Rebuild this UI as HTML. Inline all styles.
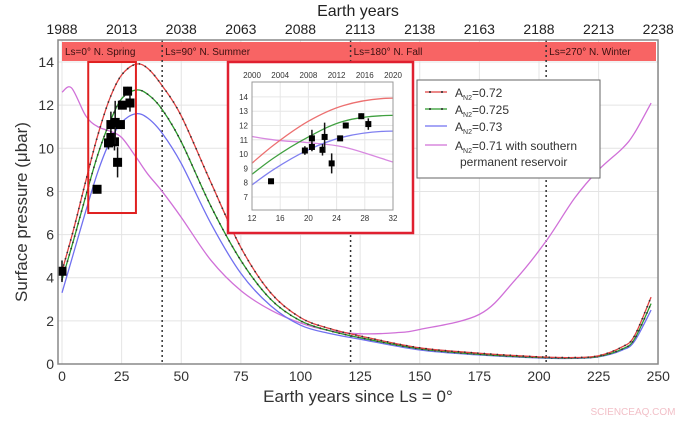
<!DOCTYPE html>
<html><head><meta charset="utf-8"><style>
body{margin:0;background:#fff;}
svg{display:block;font-family:"Liberation Sans","DejaVu Sans",sans-serif;}
</style></head><body>
<svg id="chart" width="692" height="422" viewBox="0 0 692 422"></svg>
<script>
const xTicks=[0,25,50,75,100,125,150,175,200,225,250];
const topTickLabels=["1988","2013","2038","2063","2088","2113","2138","2163","2188","2213","2238"];
const yTicks=[0,2,4,6,8,10,12,14];
const seasonX=[0,42,121,203];
const seasonLabels=["Ls=0° N. Spring","Ls=90° N. Summer","Ls=180° N. Fall","Ls=270° N. Winter"];
const modelX=[0,5,10,15,20,25,31,36,42,50,62.5,75,87.5,100,112,125,150,175,200,215,225,235,240,247];
const redY=[4.3,6.3,8.5,10.6,12.3,13.4,13.9,13.7,12.9,11.5,8.4,5.4,3.3,2.15,1.65,1.3,0.75,0.5,0.33,0.3,0.38,0.8,1.3,3.1];
const greenY=[3.9,5.8,7.8,9.7,11.2,12.3,12.7,12.5,11.8,10.3,7.3,4.8,3.0,2.0,1.55,1.22,0.7,0.45,0.3,0.28,0.35,0.7,1.15,2.8];
const blueY=[3.3,5.2,7.1,8.9,10.3,11.2,11.6,11.4,10.7,9.3,6.5,4.2,2.7,1.8,1.42,1.15,0.65,0.42,0.28,0.26,0.33,0.65,1.05,2.5];
const purpleX=[0,4,10,15,20,25,31,36,42,50,62.5,75,87.5,100,112,125,140,150,175,190,203,215,225,235,240,247];
const purpleY=[12.6,12.8,11.5,11.0,10.8,10.5,9.6,8.8,8.0,6.8,4.8,3.4,2.5,1.9,1.55,1.4,1.45,1.6,2.3,3.9,5.7,7.7,9.0,10.0,10.7,12.1];
const obsX=[0,14.7,19.5,20.5,20.5,22,22.3,23.3,24.5,25.3,27.5,28.5];
const obsY=[4.3,8.1,10.25,11.1,10.5,10.3,11.2,9.35,11.1,12.0,12.65,12.1];
const obsErr=[0.5,0.15,0.3,0.6,0.3,0.4,1.0,0.7,0.15,0.15,0.2,0.4];
const insetXTicks=[12,16,20,24,28,32];
const insetTopLabels=["2000","2004","2008","2012","2016","2020"];
const insetYTicks=[7,8,9,10,11,12,13,14];

const NS="http://www.w3.org/2000/svg";
const svg=document.getElementById('chart');
function el(tag,attrs,parent){const e=document.createElementNS(NS,tag);for(const k in attrs)e.setAttribute(k,attrs[k]);(parent||svg).appendChild(e);return e;}
const L=58,R=658,T=40,B=364;
const X=v=>62+v*2.385;
const Y=v=>364-v*21.57;
function spline(pts){let d=`M${pts[0][0]},${pts[0][1]}`;for(let i=0;i<pts.length-1;i++){const p0=pts[Math.max(i-1,0)],p1=pts[i],p2=pts[i+1],p3=pts[Math.min(i+2,pts.length-1)];const c1=[p1[0]+(p2[0]-p0[0])/6,p1[1]+(p2[1]-p0[1])/6],c2=[p2[0]-(p3[0]-p1[0])/6,p2[1]-(p3[1]-p1[1])/6];d+=` C${c1[0]},${c1[1]} ${c2[0]},${c2[1]} ${p2[0]},${p2[1]}`;}return d;}

xTicks.forEach(t=>{const g=el('line',{x1:X(t),x2:X(t),y1:T,y2:B,stroke:'#e4e4e4','stroke-width':1});

});
yTicks.forEach(t=>{const g=el('line',{x1:L,x2:R,y1:Y(t),y2:Y(t),stroke:'#e4e4e4','stroke-width':1});

});

const band=el('rect',{x:62,y:42,width:594,height:19,fill:'#f86464'});


seasonX.forEach((s,i)=>{const t=el('text',{x:X(s)+3,y:55,'font-size':10,fill:'#3a1010'});t.textContent=seasonLabels[i];


if(i>0){const ln=el('line',{x1:X(s),x2:X(s),y1:T,y2:B,stroke:'#333','stroke-width':1.5,'stroke-dasharray':'2,3'});

}});

function curve(xs,ys,color,name,dots,Xf,Yf,parent){const pts=xs.map((x,i)=>[Xf(x),Yf(ys[i])]);const p=el('path',{d:spline(pts),fill:'none',stroke:color,'stroke-width':1.3},parent);


if(dots){const len=p.getTotalLength();for(let s=0;s<len;s+=dots){const q=p.getPointAtLength(s);const c=el('circle',{cx:q.x,cy:q.y,r:0.9,fill:'#333'},parent);

}}}
curve(purpleX,purpleY,'#d070d8','curve-a071-reservoir',0,X,Y);
curve(modelX,blueY,'#7070f0','curve-a073',0,X,Y);
curve(modelX,greenY,'#2a9a2a','curve-a0725',6.5,X,Y);
curve(modelX,redY,'#e04040','curve-a072',6.5,X,Y);

function obs(Xf,Yf,sz,parent){obsX.forEach((x,i)=>{const e=el('line',{x1:Xf(x),x2:Xf(x),y1:Yf(obsY[i]+obsErr[i]),y2:Yf(obsY[i]-obsErr[i]),stroke:'#111','stroke-width':1.5},parent);


const r=el('rect',{x:Xf(x)-sz/2,y:Yf(obsY[i])-sz/2,width:sz,height:sz,fill:'#000'},parent);

});}
obs(X,Y,9);

const zr=el('rect',{x:X(11),y:Y(14),width:X(31)-X(11),height:Y(7)-Y(14),fill:'none',stroke:'#e02020','stroke-width':2});



const fr=el('rect',{x:L,y:T,width:R-L,height:B-T,fill:'none',stroke:'#888','stroke-width':1.5});



xTicks.forEach((t,i)=>{const a=el('text',{x:X(t),y:381,'font-size':14,'text-anchor':'middle',fill:'#333'});a.textContent=t;


const b=el('text',{x:X(t),y:34,'font-size':14,'text-anchor':'middle',fill:'#222'});b.textContent=topTickLabels[i];

});
yTicks.forEach(t=>{const a=el('text',{x:54,y:Y(t)+5,'font-size':14,'text-anchor':'end',fill:'#333'});a.textContent=t;

});
const xt=el('text',{x:358,y:402,'font-size':17,'text-anchor':'middle',fill:'#333'});xt.textContent='Earth years since Ls = 0°';


const tt=el('text',{x:358,y:16,'font-size':16,'text-anchor':'middle',fill:'#222'});tt.textContent='Earth years';


const yt=el('text',{x:0,y:0,'font-size':17,'text-anchor':'middle',fill:'#333',transform:'translate(27,212) rotate(-90)'});yt.textContent='Surface pressure (μbar)';



const ig=el('g',{});


el('rect',{x:228,y:62,width:185,height:171,fill:'#fff',stroke:'#e02030','stroke-width':2.5},ig);
const IX=v=>252+(v-12)*7.05, IY=v=>197-(v-7)*14.3;
const il=252,ir=393,it=82,ib=210;
const clip=el('clipPath',{id:'ic'},ig);el('rect',{x:il,y:it,width:ir-il,height:ib-it},clip);
insetXTicks.forEach((t,i)=>{el('line',{x1:IX(t),x2:IX(t),y1:it,y2:ib,stroke:'#e6e6e6'},ig);
const a=el('text',{x:IX(t),y:221,'font-size':8,'text-anchor':'middle',fill:'#333'},ig);a.textContent=t;


const b=el('text',{x:IX(t),y:78,'font-size':8,'text-anchor':'middle',fill:'#333'},ig);b.textContent=insetTopLabels[i];

});
insetYTicks.forEach(t=>{el('line',{x1:il,x2:ir,y1:IY(t),y2:IY(t),stroke:'#e6e6e6'},ig);
const a=el('text',{x:248,y:IY(t)+3,'font-size':8,'text-anchor':'end',fill:'#333'},ig);a.textContent=t;

});
const cg=el('g',{'clip-path':'url(#ic)'},ig);
curve(purpleX,purpleY,'#d888e0','inset-curve-a071',0,IX,IY,cg);
curve(modelX,blueY,'#8080f0','inset-curve-a073',0,IX,IY,cg);
curve(modelX,greenY,'#40a040','inset-curve-a0725',0,IX,IY,cg);
curve(modelX,redY,'#ec7070','inset-curve-a072',0,IX,IY,cg);
obs(IX,IY,6,cg);
el('rect',{x:il,y:it,width:ir-il,height:ib-it,fill:'none',stroke:'#999'},ig);

const lg=el('g',{});


el('rect',{x:417,y:80,width:183,height:98,fill:'#fff',stroke:'#666','stroke-width':1},lg);
const legC=['#e04040','#2a9a2a','#7070f0','#d070d8'];
const legT=['0.72','0.725','0.73','0.71 with southern'];
const legY=[92,109,126,145];
legT.forEach((s,i)=>{const ln=el('line',{x1:425,x2:447,y1:legY[i],y2:legY[i],stroke:legC[i],'stroke-width':1.3},lg);


if(i<2){el('circle',{cx:430,cy:legY[i],r:1,fill:'#222'},lg);el('circle',{cx:442,cy:legY[i],r:1,fill:'#222'},lg);}
const t=el('text',{x:455,y:legY[i]+5,'font-size':12,fill:'#333'},lg);
t.innerHTML='A<tspan font-size="7" dy="3">N2</tspan><tspan dy="-3">='+s+'</tspan>';

});
const t2=el('text',{x:460,y:166,'font-size':12,fill:'#333'},lg);t2.textContent='permanent reservoir';



const wm=el('text',{x:633,y:415,'font-size':10,'text-anchor':'middle',fill:'#f2c0c8'});wm.textContent='SCIENCEAQ.COM';


</script>
</body></html>
